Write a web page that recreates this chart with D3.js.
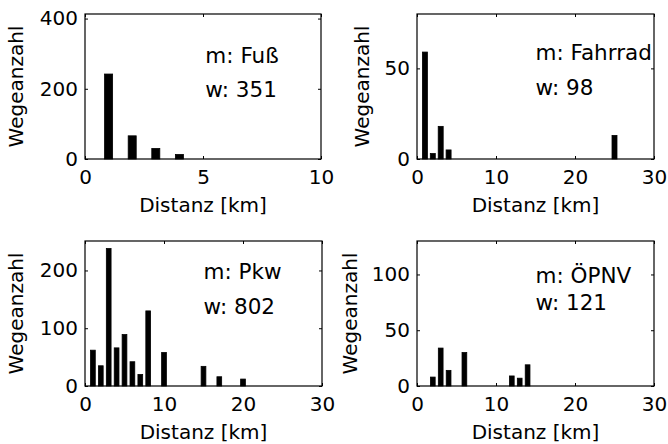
<!DOCTYPE html>
<html>
<head>
<meta charset="utf-8">
<script src="https://cdn.jsdelivr.net/npm/d3@7"></script>
<style>
  body { margin: 0; background: #fff; }
  svg text { font-family: "DejaVu Sans", sans-serif; fill: #000; }
</style>
</head>
<body>
<svg id="chart" width="668" height="444"></svg>
<script>
// distances [km] and trip counts per mode
const fussKm = [1, 2, 3, 4, 5, 6, 7, 8, 9, 10];
const fussCount = [242, 66, 30, 13, 0, 0, 0, 0, 0, 0];

const radKm = [1, 2, 3, 4, 5, 6, 7, 8, 9, 10, 11, 12, 13, 14, 15, 16, 17, 18, 19, 20, 21, 22, 23, 24, 25, 26, 27, 28, 29];
const radCount = [59, 3, 18, 5, 0, 0, 0, 0, 0, 0, 0, 0, 0, 0, 0, 0, 0, 0, 0, 0, 0, 0, 0, 0, 13, 0, 0, 0, 0];

const pkwKm = [1, 2, 3, 4, 5, 6, 7, 8, 10, 15, 17, 20];
const pkwCount = [62, 35, 238, 66, 89, 42, 20, 130, 58, 34, 16, 12];

const oepnvKm = [2, 3, 4, 6, 12, 13, 14];
const oepnvCount = [8, 34, 14, 30, 9, 7, 19];

const modeLabels = ["Fuß", "Fahrrad", "Pkw", "ÖPNV"];
const tripTotals = [351, 98, 802, 121];
const xMax = [10, 30, 30, 30];
const yMax = [413, 80, 251, 130];
const xTickValues = [[0, 5, 10], [0, 10, 20, 30], [0, 10, 20, 30], [0, 10, 20, 30]];
const yTickValues = [[0, 200, 400], [0, 50], [0, 100, 200], [0, 50, 100]];

const panels = [
    { km: fussKm, count: fussCount, box: [85, 14, 321, 159], barW: 0.34, txtX: 0.51, txtY: [49, 83], yLab: -62 },
    { km: radKm, count: radCount, box: [417, 14, 654, 159], barW: 0.63, txtX: 0.5, txtY: [46, 81], yLab: -48 },
    { km: pkwKm, count: pkwCount, box: [85, 241, 322, 386], barW: 0.6, txtX: 0.5, txtY: [38, 73], yLab: -62 },
    { km: oepnvKm, count: oepnvCount, box: [417, 241, 654, 386], barW: 0.6, txtX: 0.5, txtY: [42, 69], yLab: -60 }
];

const svg = d3.select("#chart");
const fontSize = 20;
const noteSize = 21.5;

panels.forEach((p, i) => {
    const [x0, y0, x1, y1] = p.box;
    const w = x1 - x0, h = y1 - y0;
    const g = svg.append("g").attr("transform", `translate(${x0},${y0})`);

    const x = d3.scaleLinear().domain([0, xMax[i]]).range([0, w]);
    const y = d3.scaleLinear().domain([0, yMax[i]]).range([h, 0]);

    const rows = p.km.map((k, j) => ({ km: k, n: p.count[j] }));

    g.selectAll(".bar").data(rows).join("rect")
        .attr("class", "bar")
        .attr("x", d => x(d.km - p.barW / 2))
        .attr("width", x(p.barW) - x(0))
        .attr("y", d => y(d.n))
        .attr("height", d => h - y(d.n))
        .attr("fill", "#000")
        .attr("stroke", "#000")
        .attr("stroke-width", 0.8);

    const styleAxis = sel => {
        sel.select(".domain").remove();
        sel.selectAll("line").attr("stroke", "#000");
        sel.selectAll("text").style("font-size", fontSize + "px").style("font-family", "DejaVu Sans");
    };

    g.append("g").attr("transform", `translate(0,${h})`)
        .call(d3.axisBottom(x).tickValues(xTickValues[i]).tickSizeInner(-3).tickSizeOuter(0).tickPadding(11))
        .call(styleAxis);
    g.append("g")
        .call(d3.axisTop(x).tickValues(xTickValues[i]).tickSizeInner(-3).tickSizeOuter(0).tickFormat(""))
        .call(styleAxis);
    g.append("g")
        .call(d3.axisLeft(y).tickValues(yTickValues[i]).tickSizeInner(-3).tickSizeOuter(0).tickPadding(7))
        .call(styleAxis);
    g.append("g").attr("transform", `translate(${w},0)`)
        .call(d3.axisRight(y).tickValues(yTickValues[i]).tickSizeInner(-3).tickSizeOuter(0).tickFormat(""))
        .call(styleAxis);

    g.append("rect")
        .attr("width", w).attr("height", h)
        .attr("fill", "none").attr("stroke", "#000").attr("stroke-width", 1.2);

    g.append("text")
        .attr("x", w / 2).attr("y", h + 53)
        .attr("text-anchor", "middle")
        .style("font-size", fontSize + "px")
        .text("Distanz [km]");

    g.append("text")
        .attr("transform", `translate(${p.yLab},${h / 2}) rotate(-90)`)
        .attr("text-anchor", "middle")
        .style("font-size", fontSize + "px")
        .text("Wegeanzahl");

    g.append("text")
        .attr("x", w * p.txtX).attr("y", p.txtY[0])
        .style("font-size", noteSize + "px")
        .text(`m: ${modeLabels[i]}`);
    g.append("text")
        .attr("x", w * p.txtX).attr("y", p.txtY[1])
        .style("font-size", noteSize + "px")
        .text(`w: ${tripTotals[i]}`);
});
</script>
</body>
</html>
